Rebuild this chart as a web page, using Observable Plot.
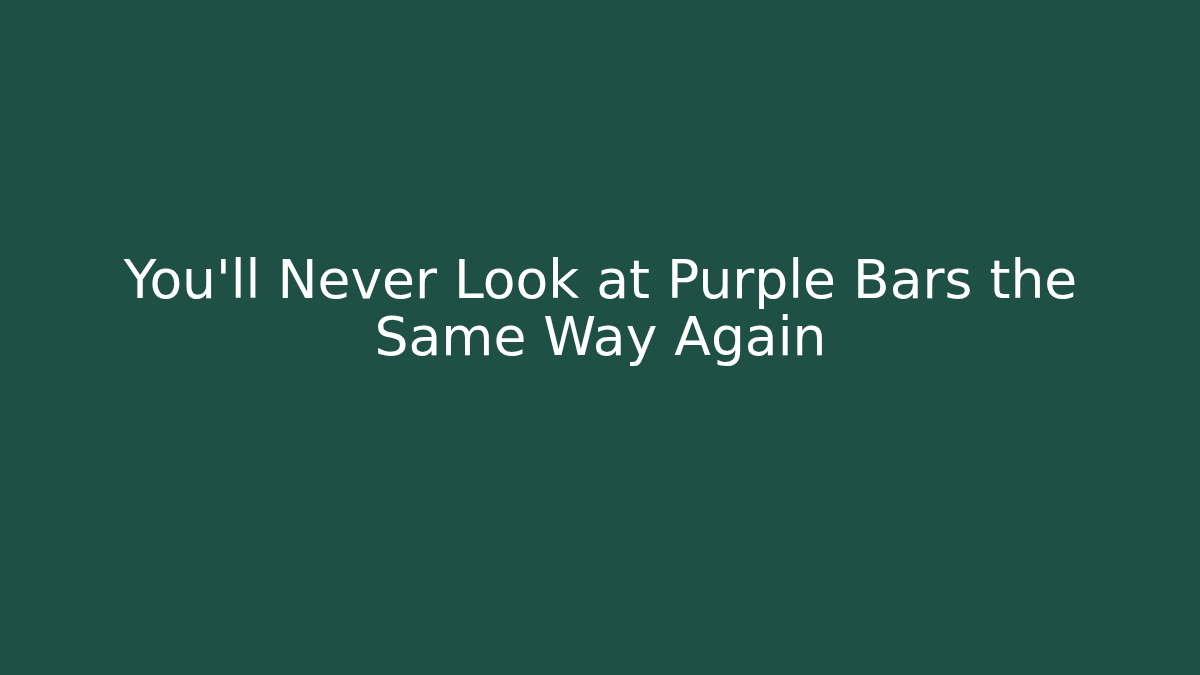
<!DOCTYPE html>
<html>
<head>
<meta charset="utf-8">
<script src="https://cdn.jsdelivr.net/npm/d3@7"></script>
<script src="https://cdn.jsdelivr.net/npm/@observablehq/plot@0.6"></script>
<style>
  html, body { margin: 0; padding: 0; background: #1f5046; }
  #chart { width: 1200px; height: 675px; overflow: hidden; }
</style>
</head>
<body>
<div id="chart"></div>
<script>
const titleLines = ["You'll Never Look at Purple Bars the", "Same Way Again"];
const bgColor = "#1f5046";
const textColor = "#ffffff";

const chart = Plot.plot({
  width: 1200,
  height: 675,
  margin: 0,
  x: {axis: null, domain: [0, 1]},
  y: {axis: null, domain: [0, 1]},
  style: {background: bgColor, fontFamily: "DejaVu Sans"},
  marks: [
    Plot.text([titleLines.join("\n")], {
      frameAnchor: "middle",
      text: d => d,
      fill: textColor,
      fontSize: 53.5,
      lineHeight: 1.08,
      dy: -30,
      fontFamily: "DejaVu Sans"
    })
  ]
});
document.getElementById("chart").appendChild(chart);
</script>
</body>
</html>
